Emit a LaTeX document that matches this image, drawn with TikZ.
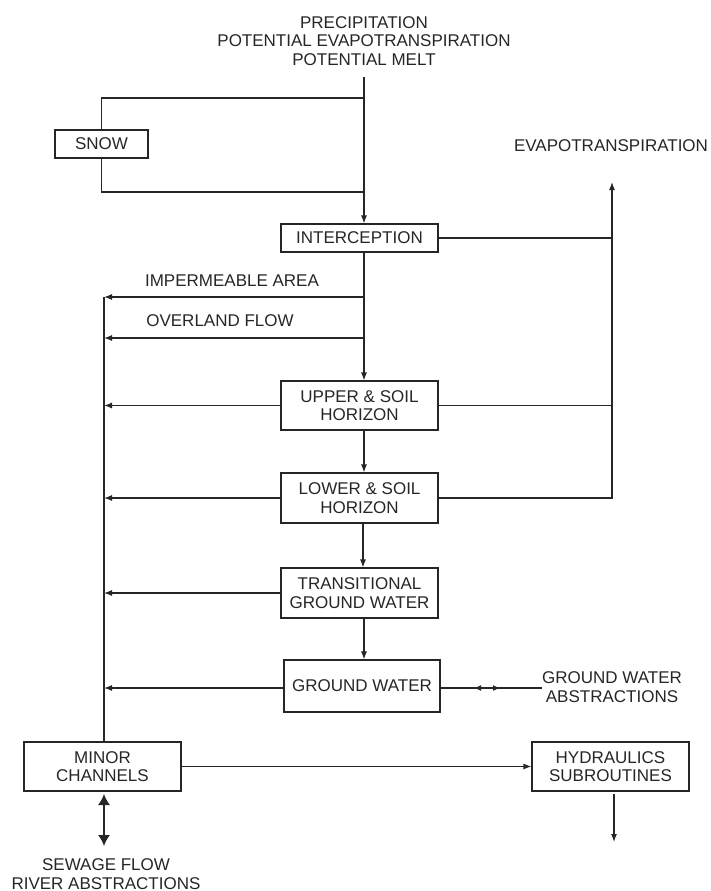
\documentclass[tikz,border=0pt]{standalone}
\usepackage{fontspec}
\setmainfont{Liberation Sans}
\usetikzlibrary{arrows.meta}
\begin{document}
\begin{tikzpicture}[x=1pt,y=-1pt,
  line width=1.1pt, draw={black!85},
  every node/.style={font=\fontsize{17}{18.5}\selectfont, text=black!85, align=center, inner sep=0pt},
  box/.style={draw, line width=1.1pt, minimum width=157pt, minimum height=49pt},
  arr/.style={-{Latex[length=8pt,width=6pt]}},
  bigarr/.style={{Latex[length=11pt,width=12pt]}-{Latex[length=11pt,width=12pt]}, line width=1.5pt},
  smallarr/.style={{Latex[length=7pt,width=6pt]}-{Latex[length=7pt,width=6pt]}}
]
\useasboundingbox (0,0) rectangle (710,891);
% text nodes
\node (src) at (364,41) {PRECIPITATION\\POTENTIAL EVAPOTRANSPIRATION\\POTENTIAL MELT};
\node (evap) at (611,146) {EVAPOTRANSPIRATION};
\node (imptxt) at (232,281) {IMPERMEABLE AREA};
\node (ovltxt) at (220,321) {OVERLAND FLOW};
\node (gwa) at (612,687) {GROUND WATER\\ABSTRACTIONS};
\node (sew) at (106,874) {SEWAGE FLOW\\RIVER ABSTRACTIONS};
% boxes
\node[box, minimum width=93pt, minimum height=28pt] (snow) at (101.5,144) {SNOW};
\node[box, minimum height=28pt] (inter) at (359.5,238) {INTERCEPTION};
\node[box] (upper) at (359.5,405.5) {UPPER \& SOIL\\HORIZON};
\node[box, minimum height=50pt] (lower) at (359.5,498) {LOWER \& SOIL\\HORIZON};
\node[box, minimum height=50pt] (trans) at (359.5,593) {TRANSITIONAL\\GROUND WATER};
\node[box, minimum width=156pt, minimum height=52pt] (gw) at (362,686) {GROUND WATER};
\node[box] (minor) at (102.5,766.5) {MINOR\\CHANNELS};
\node[box] (hyd) at (610.5,766.5) {HYDRAULICS\\SUBROUTINES};
% coordinates
\coordinate (t0) at (364,77);
\coordinate (s1) at (364,98);
\coordinate (s2) at (364,192);
\coordinate (etip) at (612,182);
\coordinate (imp) at (364,297);
\coordinate (ovl) at (364,338);
\coordinate (ltop) at (104,297);
\coordinate (ovlend) at (104,338);
\coordinate (gwl) at (474,688);
\coordinate (gwr) at (500,688);
\coordinate (hydout) at (614,842);
\coordinate (hydtop) at (614,794);
\coordinate (mtop) at (104,794);
\coordinate (mbot) at (104,846);
% input and snow loop
\draw[arr] (t0) -- (t0 |- inter.north);
\draw (s1) -| (snow.north);
\draw (snow.south) |- (s2);
% evapotranspiration
\draw[arr] (lower.east |- 0,498) -| (etip);
\draw (inter.east) -- (inter.east -| etip);
\draw (upper.east) -- (upper.east -| etip);
% spine
\draw[arr] (inter.south -| t0) -- (upper.north -| t0);
\draw[arr] (upper.south -| t0) -- (lower.north -| t0);
\draw[arr] (lower.south -| 363,0) -- (trans.north -| 363,0);
\draw[arr] (trans.south -| t0) -- (gw.north -| t0);
% left outflows
\draw[arr] (imp) -- (ltop);
\draw[arr] (ovl) -- (ovlend);
\draw (minor.north -| ltop) -- (ltop);
\draw[arr] (upper.west) -- (upper.west -| ltop);
\draw[arr] (lower.west) -- (lower.west -| ltop);
\draw[arr] (trans.west) -- (trans.west -| ltop);
\draw[arr] (gw.west |- 0,688) -- (ltop |- 0,688);
% ground water abstractions
\draw (gw.east |- 0,688) -- (gwa.west |- 0,688);
\draw[smallarr] (gwl) -- (gwr);
% minor channels
\draw[arr] (minor.east) -- (hyd.west);
\draw[arr] (hydtop) -- (hydout);
\draw[bigarr] (mtop) -- (mbot);
\end{tikzpicture}
\end{document}
